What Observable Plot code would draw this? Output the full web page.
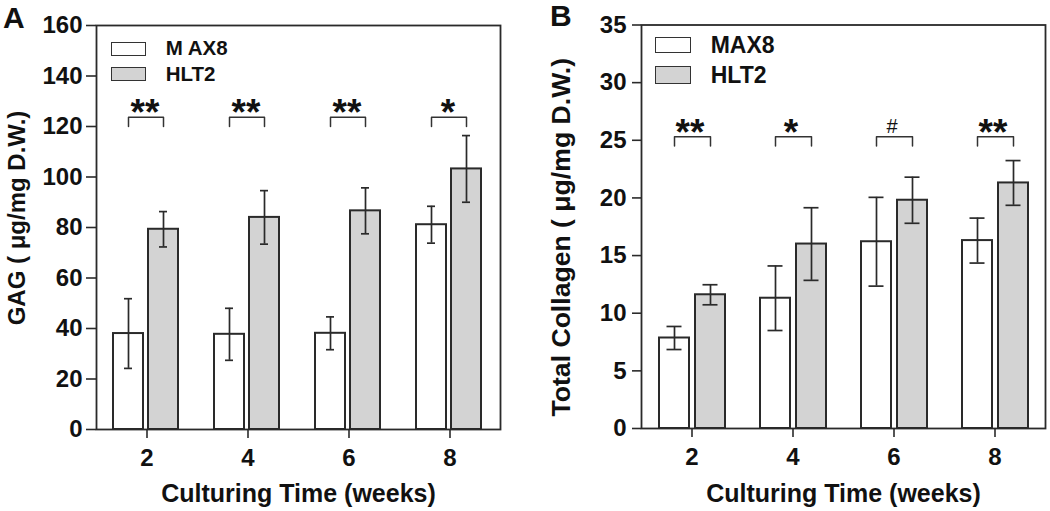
<!DOCTYPE html>
<html><head><meta charset="utf-8">
<script src="https://cdn.jsdelivr.net/npm/d3@7"></script>
<script src="https://cdn.jsdelivr.net/npm/@observablehq/plot@0.6"></script>
<style>
html,body{margin:0;padding:0;background:#fff;}
#wrap{position:relative;width:1050px;height:511px;overflow:hidden;font-family:"Liberation Sans",Arial,sans-serif;font-weight:bold;color:#111;}
.panel{position:absolute;top:0;}
.lg{position:absolute;white-space:pre;line-height:1;}
.sw{position:absolute;box-sizing:border-box;border:1.5px solid #333;}
</style></head>
<body><div id="wrap"></div>
<script>
// ---------- data ----------
const weeks = [2, 4, 6, 8];
const series = ["MAX8", "HLT2"];
const seriesLegendA = ["M AX8", "HLT2"];
const seriesFill = ["#ffffff", "#d3d3d3"];

// Panel A: GAG (µg/mg D.W.)
const gagMAX8 = [38.0, 37.7, 38.1, 81.1];
const gagMAX8Err = [13.8, 10.3, 6.5, 7.3];
const gagHLT2 = [79.3, 84.0, 86.6, 103.2];
const gagHLT2Err = [7.0, 10.6, 9.1, 13.2];
const gagSig = ["**", "**", "**", "*"];
const gagBracket = [120, 123.7];
const gagTicks = [0, 20, 40, 60, 80, 100, 120, 140, 160];

// Panel B: Total collagen (µg/mg D.W.)
const colMAX8 = [7.85, 11.3, 16.2, 16.3];
const colMAX8Err = [1.0, 2.8, 3.85, 1.95];
const colHLT2 = [11.6, 16.0, 19.8, 21.3];
const colHLT2Err = [0.87, 3.15, 2.0, 1.94];
const colSig = ["**", "*", "#", "**"];
const colBracket = [24.5, 25.3];
const colTicks = [0, 5, 10, 15, 20, 25, 30, 35];

const xLabel = "Culturing Time (weeks)";
const yLabelA = "GAG ( \u03bcg/mg D.W.)";
const yLabelB = "Total Collagen ( \u03bcg/mg D.W.)";

// ---------- build ----------
function rowsOf(a, aErr, b, bErr) {
  const out = [];
  weeks.forEach((w, i) => {
    out.push({week: w, series: series[0], value: a[i], lo: a[i] - aErr[i], hi: a[i] + aErr[i]});
    out.push({week: w, series: series[1], value: b[i], lo: b[i] - bErr[i], hi: b[i] + bErr[i]});
  });
  return out;
}
function bracketsOf(levels) {
  const out = [];
  weeks.forEach(w => {
    out.push({week: w, series: series[0], v: levels[0]});
    out.push({week: w, series: series[0], v: levels[1]});
    out.push({week: w, series: series[1], v: levels[1]});
    out.push({week: w, series: series[1], v: levels[0]});
  });
  return out;
}
function sigsOf(sig, levels) {
  return weeks.map((w, i) => ({week: w, sig: sig[i], level: levels[1]}));
}

function panel(o) {
  const rows = rowsOf(...o.vals);
  const br = bracketsOf(o.bracket);
  const sg = sigsOf(o.sig, o.bracket);
  const ink = "#2a2a2a";
  return Plot.plot({
    width: 525, height: 511,
    marginLeft: o.ml, marginRight: o.mr, marginTop: o.mt, marginBottom: o.mb,
    style: {fontFamily: "'Liberation Sans', Arial, sans-serif", fontWeight: "bold", color: "#111", background: "white", overflow: "visible"},
    fx: {domain: weeks, padding: 0},
    x: {axis: null, domain: series, paddingInner: o.pi, paddingOuter: o.po, align: o.align},
    y: {domain: [0, o.ticks[o.ticks.length - 1]]},
    color: {domain: series, range: seriesFill},
    marks: [
      Plot.barY(rows, {fx: "week", x: "series", y: "value", fill: "series", stroke: ink, strokeWidth: 2}),
      Plot.ruleX(rows, {fx: "week", x: "series", y1: "lo", y2: "hi", stroke: ink, strokeWidth: 1.7}),
      Plot.tickY(rows, {fx: "week", x: "series", y: "lo", insetLeft: o.cap, insetRight: o.cap, stroke: ink, strokeWidth: 1.7}),
      Plot.tickY(rows, {fx: "week", x: "series", y: "hi", insetLeft: o.cap, insetRight: o.cap, stroke: ink, strokeWidth: 1.7}),
      Plot.line(br, {fx: "week", x: "series", y: "v", z: "week", stroke: "#333", strokeWidth: 1.5}),
      Plot.text(sg.filter(d => d.sig !== "#"), {fx: "week", y: "level", text: "sig", fontSize: 37, fontWeight: "bold", dy: -4, dx: -2, fill: "#111"}),
      Plot.text(sg.filter(d => d.sig === "#"), {fx: "week", y: "level", text: "sig", fontSize: 20, fontWeight: "normal", dy: -10, dx: -2, fill: "#111"}),
      Plot.frame({facet: "super", stroke: ink, strokeWidth: 1.8}),
      Plot.axisY({ticks: o.ticks, tickSize: o.ts, tickPadding: o.tp, fontSize: 24, label: null, stroke: ink, strokeWidth: 1.6}),
      Plot.axisFx({anchor: "bottom", tickSize: 9, tickPadding: 10, fontSize: 24, label: null, stroke: ink, strokeWidth: 1.6}),
      Plot.text([xLabel], {facet: "super", frameAnchor: "bottom", text: d => d, fontSize: 25, dy: o.xlDy}),
      Plot.text([o.ylabel], {facet: "super", frameAnchor: "left", textAnchor: "middle", rotate: -90, lineAnchor: "top", text: d => d, fontSize: o.ylfs, dx: -o.ylOff, dy: o.ylDy})
    ]
  });
}

const wrap = document.getElementById("wrap");
const A = panel({vals: [gagMAX8, gagMAX8Err, gagHLT2, gagHLT2Err], sig: gagSig, bracket: gagBracket, ticks: gagTicks,
  ml: 96, mr: 25, mt: 25, mb: 82, pi: 0.143, po: 0.514, align: 0.46, cap: 11, ts: 10, tp: 4,
  ylabel: yLabelA, ylfs: 24, ylOff: 89, ylDy: -9.5, xlDy: 72});
A.classList.add("panel"); A.style.left = "0px";
const B = panel({vals: [colMAX8, colMAX8Err, colHLT2, colHLT2Err], sig: colSig, bracket: colBracket, ticks: colTicks,
  ml: 115, mr: 4, mt: 24.5, mb: 83, pi: 0.18, po: 0.485, align: 0.5, cap: 7.5, ts: 9, tp: 6,
  ylabel: yLabelB, ylfs: 26.6, ylOff: 90, ylDy: 10.5, xlDy: 73});
B.classList.add("panel"); B.style.left = "525px";
wrap.appendChild(A); wrap.appendChild(B);

// legends and panel letters (HTML overlay)
function addText(txt, left, top, size) {
  const d = document.createElement("div");
  d.className = "lg"; d.textContent = txt;
  d.style.left = left + "px"; d.style.top = top + "px"; d.style.fontSize = size + "px";
  wrap.appendChild(d);
}
function addSwatch(fill, left, top, w, h) {
  const d = document.createElement("div");
  d.className = "sw"; d.style.background = fill;
  d.style.left = left + "px"; d.style.top = top + "px"; d.style.width = w + "px"; d.style.height = h + "px";
  wrap.appendChild(d);
}
addSwatch(seriesFill[0], 111, 42, 35, 13.5);
addSwatch(seriesFill[1], 111, 67, 35, 13.5);
addText(seriesLegendA[0], 165.7, 37.6, 20.5);
addText(seriesLegendA[1], 165.7, 64.3, 20.5);
addSwatch(seriesFill[0], 655, 37, 35.5, 16);
addSwatch(seriesFill[1], 655, 66, 35.5, 18);
addText(series[0], 710.7, 33.8, 23);
addText(series[1], 710.7, 63.8, 23);
addText("A", 3, 3, 30);
addText("B", 550, 1.3, 30);
</script></body></html>
